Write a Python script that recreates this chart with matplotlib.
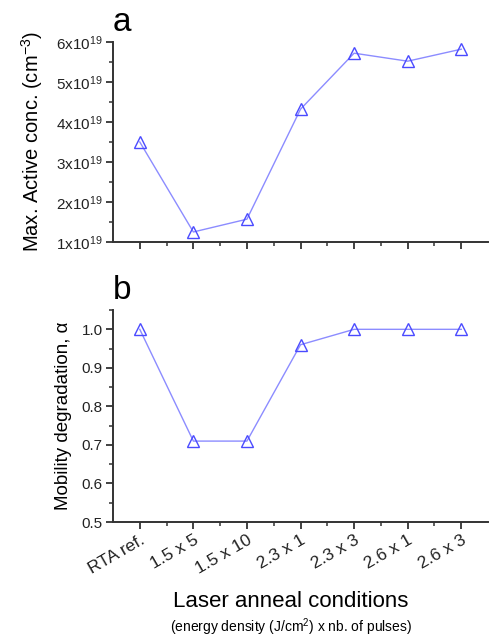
import numpy as np
import matplotlib
matplotlib.use("Agg")
import matplotlib.pyplot as plt
from matplotlib.ticker import FixedLocator, AutoMinorLocator, MultipleLocator

plt.rcParams['font.family'] = ['Liberation Sans', 'DejaVu Sans']
plt.rcParams['mathtext.fontset'] = 'custom'
plt.rcParams['mathtext.rm'] = 'Liberation Sans'
plt.rcParams['mathtext.it'] = 'Liberation Sans:italic'

# data
conditions = ["RTA ref.", "1.5 x 5", "1.5 x 10", "2.3 x 1", "2.3 x 3", "2.6 x 1", "2.6 x 3"]
active_conc = [3.5, 1.25, 1.57, 4.32, 5.72, 5.52, 5.82]   # x1e19 cm^-3
mobility = [1.0, 0.71, 0.71, 0.96, 1.0, 1.0, 1.0]
conc_ticks = [1, 2, 3, 4, 5, 6]

line_col = "#8c8cff"
mark_col = "#4a4aff"
spine_col = "#333333"

fig = plt.figure(figsize=(4.9, 6.41), dpi=100)
ax1 = fig.add_axes([0.2306, 0.6225, 0.7654, 0.312])
ax2 = fig.add_axes([0.2306, 0.1856, 0.7654, 0.3307])

x = np.arange(len(conditions))

def style(ax):
    for s in ["top", "right"]:
        ax.spines[s].set_visible(False)
    for s in ["left", "bottom"]:
        ax.spines[s].set_color(spine_col)
        ax.spines[s].set_linewidth(1.4)
    ax.tick_params(which="major", direction="out", length=5, width=1.3, color=spine_col, labelsize=11, labelcolor="#222222", pad=2.5)
    ax.tick_params(which="minor", direction="out", length=3, width=1.1, color=spine_col)
    ax.set_xlim(-0.5, 6.5)
    ax.xaxis.set_major_locator(FixedLocator(x))
    ax.xaxis.set_minor_locator(FixedLocator(x[:-1] + 0.5))

ax1.plot(x, active_conc, color=line_col, lw=1.0, marker="^", ms=8,
         mfc="none", mec=mark_col, mew=1.0)
style(ax1)
ax1.set_ylim(1, 6)
ax1.yaxis.set_major_locator(FixedLocator(conc_ticks))
ax1.yaxis.set_minor_locator(AutoMinorLocator(2))
ax1.set_yticklabels([f"{v}x10$^{{19}}$" for v in conc_ticks])
ax1.set_xticklabels([])
ax1.set_ylabel("Max. Active conc. (cm$^{-3}$)", fontsize=14.5)
ax1.yaxis.set_label_coords(-0.18, 0.5)
ax1.text(0.0, 1.02, "a", transform=ax1.transAxes, fontsize=24, va="bottom")

ax2.plot(x, mobility, color=line_col, lw=1.0, marker="^", ms=8,
         mfc="none", mec=mark_col, mew=1.0)
style(ax2)
ax2.set_ylim(0.5, 1.05)
ax2.yaxis.set_major_locator(MultipleLocator(0.1))
ax2.yaxis.set_minor_locator(AutoMinorLocator(2))
ax2.yaxis.set_major_formatter(plt.FormatStrFormatter("%.1f"))
ax2.set_xticklabels(conditions, rotation=30, ha="right", rotation_mode="anchor", fontsize=12.5)
ax2.set_ylabel("Mobility degradation, α", fontsize=13.5)
ax2.yaxis.set_label_coords(-0.11, 0.5)
ax2.text(0.0, 1.02, "b", transform=ax2.transAxes, fontsize=24, va="bottom")

fig.text(0.594, 0.061, "Laser anneal conditions", fontsize=16, ha="center", va="center")
fig.text(0.594, 0.021, "(energy density (J/cm$^{2}$) x nb. of pulses)", fontsize=10, ha="center", va="center")

fig.savefig("out.png", dpi=100)
